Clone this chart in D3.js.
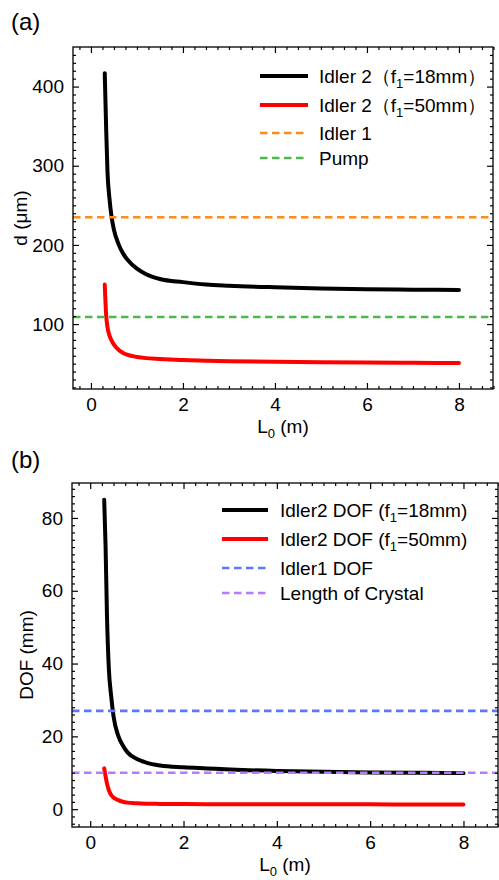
<!DOCTYPE html>
<html>
<head>
<meta charset="utf-8">
<script src="https://cdn.jsdelivr.net/npm/d3@7"></script>
<style>
  body { margin: 0; background: #fff; }
  svg { display: block; font-family: "Liberation Sans", Arial, sans-serif; }
</style>
</head>
<body>
<div id="chart"></div>
<script>

// L0 values (m) sampled along the curves
var L0 = [0.3, 0.33, 0.36, 0.4, 0.45, 0.5, 0.6, 0.7, 0.8, 1.0, 1.2, 1.5, 2, 2.5, 3, 4, 5, 6, 7, 8];

// panel (a): beam size d (um)
var dIdler2f18 = [417, 349, 292, 260, 235, 219, 201, 189, 181, 170, 163, 157, 153, 150, 148.5, 146.5, 145, 144, 143.5, 143];
var dIdler2f50 = [150, 112, 96, 86, 79, 74, 67.5, 63.5, 61, 58.5, 57, 56, 54.5, 53.7, 53, 52.3, 51.8, 51.4, 51.1, 50.8];
var dIdler1 = 235;
var dPump = 109;

// panel (b): depth of field (mm)
var dofIdler2f18 = [85, 72, 53, 38.5, 31, 25.5, 20.2, 17.5, 15.6, 13.8, 12.8, 12.0, 11.5, 11.2, 10.9, 10.5, 10.3, 10.1, 10.0, 9.9];
var dofIdler2f50 = [11.2, 9.0, 7.0, 5.2, 3.9, 3.2, 2.5, 2.05, 1.8, 1.6, 1.5, 1.45, 1.4, 1.38, 1.36, 1.34, 1.33, 1.32, 1.31, 1.3];
var dofIdler1 = 27;
var crystalLength = 10;

// tick labels
var xTicks = [0, 2, 4, 6, 8];
var dTicks = [100, 200, 300, 400];
var dofTicks = [0, 20, 40, 60, 80];

var W = 499, H = 880;

var svg = d3.select("#chart").append("svg")
    .attr("width", W)
    .attr("height", H);

svg.append("rect").attr("width", W).attr("height", H).attr("fill", "#fff");

function drawPanel(p) {

    var x = d3.scaleLinear().domain(p.xDomain).range([p.left, p.right]);
    var y = d3.scaleLinear().domain(p.yDomain).range([p.bottom, p.top]);

    var g = svg.append("g");

    var line = d3.line()
        .x(function(d) { return x(d[0]); })
        .y(function(d) { return y(d[1]); })
        .curve(d3.curveMonotoneX);

    // curves
    p.curves.forEach(function(c) {
        g.append("path")
            .attr("d", line(L0.map(function(l, i) { return [l, c.values[i]]; })))
            .attr("fill", "none")
            .attr("stroke", c.color)
            .attr("stroke-width", 4)
            .attr("stroke-linecap", "round")
            .attr("stroke-linejoin", "round");
    });

    // horizontal reference lines
    p.refs.forEach(function(r) {
        g.append("line")
            .attr("x1", p.left).attr("x2", p.right)
            .attr("y1", y(r.value)).attr("y2", y(r.value))
            .attr("stroke", r.color)
            .attr("stroke-width", 2.6)
            .attr("stroke-dasharray", "7.5,4.5");
    });

    // minor ticks
    var xMinor = d3.range(-0.25, 8.76, 0.25).filter(function(v) { return xTicks.indexOf(v) < 0; });
    var yMinor = d3.range(Math.ceil(p.yDomain[0] / p.yMinorStep) * p.yMinorStep, p.yDomain[1], p.yMinorStep)
        .filter(function(v) { return p.yTicks.indexOf(v) < 0; });

    function styleAxis(sel) {
        sel.select(".domain").remove();
        sel.selectAll(".tick line").attr("stroke", "#000").attr("stroke-width", 1.2);
        sel.selectAll(".tick text")
            .attr("fill", "#000")
            .style("font-size", "19px")
            .style("font-family", "'Liberation Sans', Arial, sans-serif");
    }

    // bottom
    g.append("g").attr("transform", "translate(0," + p.bottom + ")")
        .call(d3.axisBottom(x).tickValues(xTicks).tickSizeInner(-6).tickSizeOuter(0).tickPadding(9))
        .call(styleAxis);
    g.append("g").attr("transform", "translate(0," + p.bottom + ")")
        .call(d3.axisBottom(x).tickValues(xMinor).tickFormat("").tickSizeInner(-3).tickSizeOuter(0))
        .call(styleAxis);
    // top
    g.append("g").attr("transform", "translate(0," + p.top + ")")
        .call(d3.axisTop(x).tickValues(xTicks).tickFormat("").tickSizeInner(-6).tickSizeOuter(0))
        .call(styleAxis);
    g.append("g").attr("transform", "translate(0," + p.top + ")")
        .call(d3.axisTop(x).tickValues(xMinor).tickFormat("").tickSizeInner(-3).tickSizeOuter(0))
        .call(styleAxis);
    // left
    g.append("g").attr("transform", "translate(" + p.left + ",0)")
        .call(d3.axisLeft(y).tickValues(p.yTicks).tickSizeInner(-6).tickSizeOuter(0).tickPadding(9))
        .call(styleAxis);
    g.append("g").attr("transform", "translate(" + p.left + ",0)")
        .call(d3.axisLeft(y).tickValues(yMinor).tickFormat("").tickSizeInner(-3).tickSizeOuter(0))
        .call(styleAxis);
    // right
    g.append("g").attr("transform", "translate(" + p.right + ",0)")
        .call(d3.axisRight(y).tickValues(p.yTicks).tickFormat("").tickSizeInner(-6).tickSizeOuter(0))
        .call(styleAxis);
    g.append("g").attr("transform", "translate(" + p.right + ",0)")
        .call(d3.axisRight(y).tickValues(yMinor).tickFormat("").tickSizeInner(-3).tickSizeOuter(0))
        .call(styleAxis);

    // frame
    g.append("rect")
        .attr("x", p.left).attr("y", p.top)
        .attr("width", p.right - p.left).attr("height", p.bottom - p.top)
        .attr("fill", "none")
        .attr("stroke", "#000")
        .attr("stroke-width", 1.3);

    // x axis title
    var xt = g.append("text")
        .attr("x", (p.left + p.right) / 2)
        .attr("y", p.bottom + 44)
        .attr("text-anchor", "middle")
        .style("font-size", "19px");
    xt.append("tspan").text("L");
    xt.append("tspan").attr("dy", 5).style("font-size", "13px").text("0");
    xt.append("tspan").attr("dy", -5).text(" (m)");

    // y axis title
    g.append("text")
        .attr("transform", "translate(" + p.yTitleX + "," + ((p.top + p.bottom) / 2) + ") rotate(-90)")
        .attr("text-anchor", "middle")
        .style("font-size", "19px")
        .text(p.yTitle);

    // panel label
    g.append("text")
        .attr("x", 11)
        .attr("y", p.labelY)
        .style("font-size", "24px")
        .text(p.label);

    // legend
    var leg = g.append("g");
    p.legend.forEach(function(d, i) {
        var ly = p.legendY[i];
        leg.append("line")
            .attr("x1", p.legendX[0]).attr("x2", p.legendX[1])
            .attr("y1", ly).attr("y2", ly)
            .attr("stroke", d.color)
            .attr("stroke-width", d.dashed ? 2.6 : 4)
            .attr("stroke-dasharray", d.dashed ? "7.5,4.5" : null);
        var t = leg.append("text")
            .attr("x", p.legendX[2])
            .attr("y", ly + 7)
            .style("font-size", "19px");
        d.parts.forEach(function(part) {
            var ts = t.append("tspan").text(part.t);
            if (part.sub) ts.attr("dy", 5).style("font-size", "13px");
            if (part.after) ts.attr("dy", -5);
        });
    });
}

// panel (a)
drawPanel({
    left: 73, right: 493, top: 47, bottom: 389,
    xDomain: [-0.39, 8.74], yDomain: [18, 450],
    yTicks: dTicks, yMinorStep: 10,
    yTitle: "d (\u03bcm)", yTitleX: 27,
    label: "(a)", labelY: 30,
    curves: [
        {values: dIdler2f18, color: "#000000"},
        {values: dIdler2f50, color: "#ff0000"}
    ],
    refs: [
        {value: dIdler1, color: "#ff8c1a"},
        {value: dPump, color: "#4cb84c"}
    ],
    legendX: [260, 308, 319],
    legendY: [76, 105, 133, 158],
    legend: [
        {color: "#000000", parts: [{t: "Idler 2\uff08f"}, {t: "1", sub: true}, {t: "=18mm\uff09", after: true}]},
        {color: "#ff0000", parts: [{t: "Idler 2\uff08f"}, {t: "1", sub: true}, {t: "=50mm\uff09", after: true}]},
        {color: "#ff8c1a", dashed: true, parts: [{t: "Idler 1"}]},
        {color: "#4cb84c", dashed: true, parts: [{t: "Pump"}]}
    ]
});

// panel (b)
drawPanel({
    left: 72, right: 498, top: 483, bottom: 827,
    xDomain: [-0.39, 8.74], yDomain: [-4.9, 89.6],
    yTicks: dofTicks, yMinorStep: 2,
    yTitle: "DOF (mm)", yTitleX: 33,
    label: "(b)", labelY: 468,
    curves: [
        {values: dofIdler2f18, color: "#000000"},
        {values: dofIdler2f50, color: "#ff0000"}
    ],
    refs: [
        {value: dofIdler1, color: "#5a78ff"},
        {value: crystalLength, color: "#b67cff"}
    ],
    legendX: [222, 268, 280],
    legendY: [510, 539, 568, 593],
    legend: [
        {color: "#000000", parts: [{t: "Idler2 DOF (f"}, {t: "1", sub: true}, {t: "=18mm)", after: true}]},
        {color: "#ff0000", parts: [{t: "Idler2 DOF (f"}, {t: "1", sub: true}, {t: "=50mm)", after: true}]},
        {color: "#5a78ff", dashed: true, parts: [{t: "Idler1 DOF"}]},
        {color: "#b67cff", dashed: true, parts: [{t: "Length of Crystal"}]}
    ]
});

</script>
</body>
</html>
